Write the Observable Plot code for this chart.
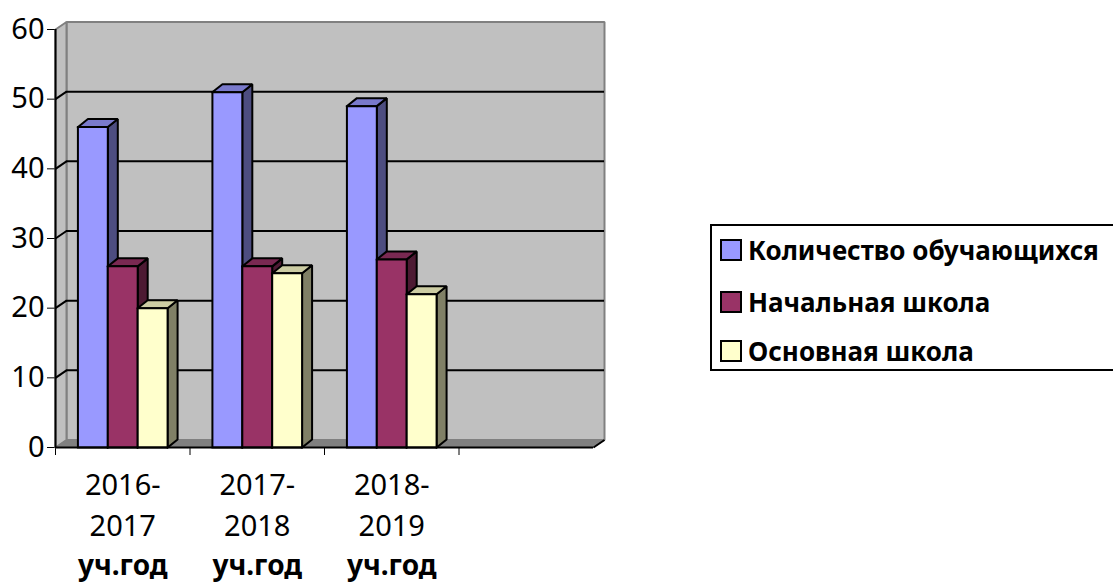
<!DOCTYPE html>
<html>
<head>
<meta charset="utf-8">
<script src="https://cdn.jsdelivr.net/npm/d3@7"></script>
<script src="https://cdn.jsdelivr.net/npm/@observablehq/plot@0.6"></script>
<style>
  html, body { margin: 0; padding: 0; background: #fff; }
  #wrap { position: relative; width: 1113px; height: 583px; overflow: hidden; font-family: 'Noto Sans', sans-serif; }
  #chart { position: absolute; left: 0; top: 0; }
  #legend { position: absolute; left: 710px; top: 224px; width: 440px; height: 143px; border: 2px solid #000; background: #fff; box-sizing: content-box; }
  .item { position: absolute; left: 8px; height: 30px; display: flex; align-items: center; font-weight: bold; font-size: 26px; color: #000; white-space: nowrap; }
  .sw { width: 18px; height: 18px; border: 2px solid #000; margin-right: 6px; flex: none; }
</style>
</head>
<body>
<div id="wrap">
  <div id="chart"></div>
  <div id="legend"></div>
</div>
<script>
// ---- data ----
const categories = ["2016-2017", "2017-2018", "2018-2019"];
const categorySuffix = "уч.год";
const seriesNames = ["Количество обучающихся", "Начальная школа", "Основная школа"];
const students = [46, 51, 49];     // Количество обучающихся
const primary = [26, 26, 27];      // Начальная школа
const basic = [20, 25, 22];        // Основная школа
const yTicks = [0, 10, 20, 30, 40, 50, 60];
const gridValues = [10, 20, 30, 40, 50];

// ---- styles ----
const frontColors = ["#9999FF", "#993366", "#FFFFCC"];
const topColors = ["#7A7ACC", "#7A2952", "#CCCCA3"];
const sideColors = ["#4D4D80", "#4D1A33", "#808066"];

const nSlots = 4;               // 3 categories + one empty slot
const yMax = 60;
const W = 700, H = 583;
const mL = 55, mR = 107, mT = 29, mB = 136;
const pxX = (W - mL - mR) / nSlots;   // px per x unit
const pxY = (H - mT - mB) / yMax;     // px per y unit
// 3D depth offsets (converted from pixels to data units)
const WX = 11 / pxX, WY = 7.5 / pxY;  // walls
const BX = 10 / pxX, BY = 8 / pxY;    // bars
const gap = 1 / 6, bw = 2 / 9;

const seriesValues = [students, primary, basic];

// bar faces as polygons, drawn left to right
const faces = [];
let fid = 0;
categories.forEach((c, i) => {
  seriesValues.forEach((vals, k) => {
    const v = vals[i];
    const x0 = i + gap + k * bw, x1 = x0 + bw;
    const push = (pts, color) => {
      const id = fid++;
      pts.forEach(([x, y]) => faces.push({id, x, y, c: color}));
    };
    push([[x1, 0], [x1 + BX, BY], [x1 + BX, v + BY], [x1, v], [x1, 0]], sideColors[k]);
    push([[x0, v], [x1, v], [x1 + BX, v + BY], [x0 + BX, v + BY], [x0, v]], topColors[k]);
    push([[x0, 0], [x1, 0], [x1, v], [x0, v], [x0, 0]], frontColors[k]);
  });
});

const backWall = [[WX, WY], [nSlots + WX, WY], [nSlots + WX, yMax + WY], [WX, yMax + WY], [WX, WY]].map(([x, y]) => ({x, y}));
const leftWall = [[0, 0], [WX, WY], [WX, yMax + WY], [0, yMax], [0, 0]].map(([x, y]) => ({x, y}));
const floor = [[0, 0], [nSlots, 0], [nSlots + WX, WY], [WX, WY], [0, 0]].map(([x, y]) => ({x, y}));

const chart = Plot.plot({
  width: W, height: H,
  marginLeft: mL, marginRight: mR, marginTop: mT, marginBottom: mB,
  style: {fontFamily: "'Noto Sans', sans-serif", fontSize: "29px", color: "#000", background: "transparent", overflow: "visible"},
  x: {type: "linear", domain: [0, nSlots], ticks: [0, 1, 2, 3], tickFormat: () => "", tickSize: 8, label: null},
  y: {domain: [0, yMax], ticks: yTicks, tickSize: 8, tickPadding: 3, label: null},
  color: {type: "identity"},
  marks: [
    Plot.line(backWall, {x: "x", y: "y", fill: "#C0C0C0", stroke: "#808080", strokeWidth: 2, strokeLinejoin: "miter"}),
    Plot.line(leftWall, {x: "x", y: "y", fill: "#C0C0C0", stroke: "#808080", strokeWidth: 2, strokeLinejoin: "miter"}),
    Plot.ruleY(gridValues, {y: d => d + WY, x1: () => WX, x2: () => nSlots + WX, stroke: "#000", strokeWidth: 2}),
    Plot.link(gridValues, {x1: () => 0, y1: d => d, x2: () => WX, y2: d => d + WY, stroke: "#000", strokeWidth: 2}),
    Plot.line(floor, {x: "x", y: "y", fill: "#808080", stroke: "#808080", strokeWidth: 1, strokeLinejoin: "miter"}),
    Plot.link([0], {x1: () => nSlots, y1: () => 0, x2: () => nSlots + WX, y2: () => WY, stroke: "#000", strokeWidth: 2}),
    Plot.line(faces, {x: "x", y: "y", z: "id", fill: "c", stroke: "#000", strokeWidth: 2, strokeLinejoin: "miter", strokeLinecap: "square"}),
    Plot.ruleX([0], {y1: 0, y2: yMax, stroke: "#000", strokeWidth: 2}),
    Plot.ruleY([0], {x1: 0, x2: nSlots, stroke: "#000", strokeWidth: 2}),
    Plot.text(categories, {x: (d, i) => i + 0.5, y: () => 0, text: d => d.split("-")[0] + "-", dy: 38, fontSize: 29}),
    Plot.text(categories, {x: (d, i) => i + 0.5, y: () => 0, text: d => d.split("-")[1], dy: 79, fontSize: 29}),
    Plot.text(categories, {x: (d, i) => i + 0.5, y: () => 0, text: () => categorySuffix, dy: 119, fontSize: 28, fontWeight: "bold"})
  ]
});
document.getElementById("chart").appendChild(chart);

// legend
const legend = document.getElementById("legend");
const rowTops = [9, 61, 110];
seriesNames.forEach((name, k) => {
  const item = document.createElement("div");
  item.className = "item";
  item.style.top = rowTops[k] + "px";
  const sw = document.createElement("span");
  sw.className = "sw";
  sw.style.background = frontColors[k];
  const t = document.createElement("span");
  t.textContent = name;
  item.appendChild(sw);
  item.appendChild(t);
  legend.appendChild(item);
});
</script>
</body>
</html>
